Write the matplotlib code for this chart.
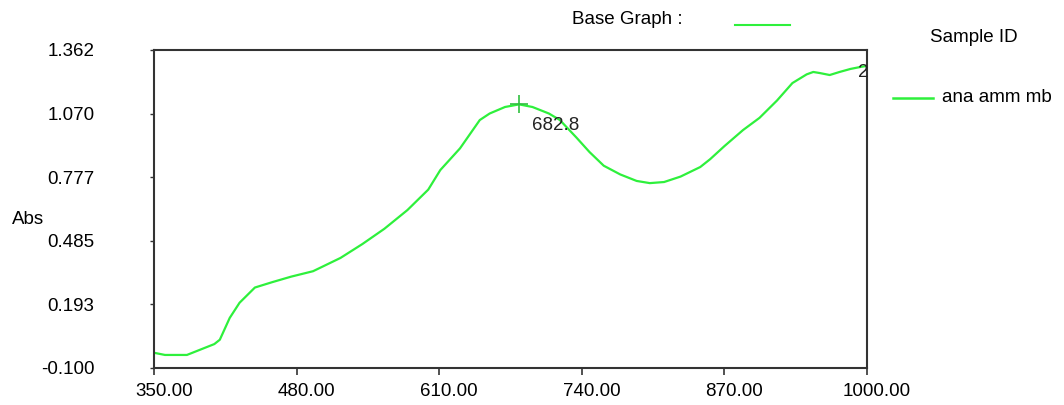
import matplotlib.pyplot as plt
import matplotlib.transforms as mtransforms

# spectrum (wavelength nm, absorbance)
wavelength = [350, 360, 370, 380, 385, 395, 405, 410, 419, 428, 442, 458, 475, 495,
              520, 540, 560, 581, 600, 611, 629, 647, 656, 670, 682.8, 695, 710, 720,
              735, 747, 760, 775, 790, 802, 815, 830, 848, 857, 870, 887, 902, 918,
              932, 945, 951, 957, 966, 975, 985, 994, 1000]
absorbance = [-0.03, -0.04, -0.04, -0.04, -0.03, -0.01, 0.01, 0.03, 0.13, 0.20, 0.27, 0.295,
              0.32, 0.345, 0.406, 0.47, 0.54, 0.626, 0.72, 0.81, 0.91, 1.04, 1.07, 1.10,
              1.112, 1.10, 1.07, 1.04, 0.96, 0.893, 0.83, 0.79, 0.76, 0.75, 0.755, 0.78,
              0.824, 0.86, 0.92, 0.994, 1.05, 1.13, 1.21, 1.25, 1.261, 1.256, 1.247,
              1.261, 1.275, 1.284, 1.289]

xticks = [350, 480, 610, 740, 870, 1000]
yticks = [-0.100, 0.193, 0.485, 0.777, 1.070, 1.362]
peak_nm, peak_abs = 682.8, 1.112

green = '#2ef03c'
fs = 13.5
plt.rcParams['font.family'] = ['Liberation Sans', 'DejaVu Sans']

fig = plt.figure(figsize=(10.64, 4.05), dpi=100)
ax = fig.add_axes([154 / 1064, 1 - 368 / 405, (867 - 154) / 1064, (368 - 50) / 405])

ax.plot(wavelength, absorbance, color=green, lw=1.6)
ax.plot(peak_nm, peak_abs, marker='+', ms=13, mew=1.2, color='#30c040')
ax.text(peak_nm + 12, peak_abs - 0.06, '682.8', fontsize=fs, va='top', ha='left', color='#222222')
ax.text(wavelength[-1] + 1, absorbance[-1] - 0.03, '2', fontsize=fs, va='center', ha='right', color='#222222')

ax.set_xlim(350, 1000)
ax.set_ylim(-0.100, 1.362)
ax.set_xticks(xticks)
ax.set_xticklabels(['%.2f' % v for v in xticks])
ax.set_yticks(yticks)
ax.set_yticklabels(['%.3f' % v for v in yticks])
ax.tick_params(axis='x', length=5, width=1.2, labelsize=fs, pad=6, color='#333333')
ax.tick_params(axis='y', length=3, width=1.0, labelsize=fs, pad=40, color='#333333')
off = mtransforms.ScaledTranslation(10 / 100, 0, fig.dpi_scale_trans)
for lab in ax.get_xticklabels():
    lab.set_transform(lab.get_transform() + off)
for s in ax.spines.values():
    s.set_linewidth(1.5)
    s.set_color('#333333')

fig.text(12 / 1064, 1 - 220 / 405, 'Abs', fontsize=fs, va='center', ha='left')
fig.text(572 / 1064, 1 - 20 / 405, 'Base Graph :', fontsize=fs, va='center', ha='left')
fig.add_artist(plt.Line2D([735 / 1064, 790 / 1064], [1 - 25 / 405, 1 - 25 / 405], color=green, lw=1.5))
fig.text(930 / 1064, 1 - 37 / 405, 'Sample ID', fontsize=fs, va='center', ha='left')
fig.add_artist(plt.Line2D([893 / 1064, 933 / 1064], [1 - 98 / 405, 1 - 98 / 405], color=green, lw=1.8))
fig.text(942 / 1064, 1 - 98 / 405, 'ana amm mb', fontsize=fs, va='center', ha='left')

fig.savefig('out.png', dpi=100)
